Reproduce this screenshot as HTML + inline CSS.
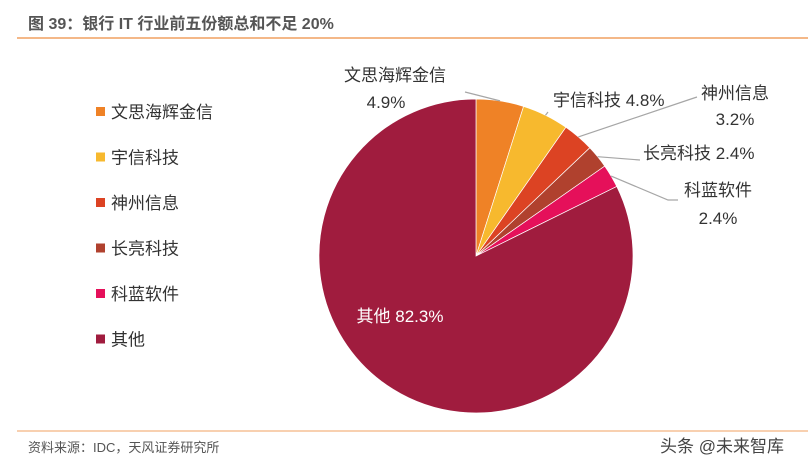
<!DOCTYPE html>
<html><head><meta charset="utf-8"><style>
body{margin:0;background:#fff;width:808px;height:465px;overflow:hidden;font-family:"Liberation Sans","Noto Sans CJK SC",sans-serif}
svg text{font-family:"Liberation Sans","Noto Sans CJK SC",sans-serif}
</style></head><body>
<svg width="808" height="465">
<text x="28" y="29" font-size="16" font-weight="bold" fill="#555">图 39：银行 IT 行业前五份额总和不足 20%</text>
<line x1="17" y1="38" x2="808" y2="38" stroke="#f0a060" stroke-width="1.5"/>
<g id="legend"></g>
<g id="pie"></g>
<g id="labels"></g>
<line x1="17" y1="431" x2="808" y2="431" stroke="#f0a060" stroke-width="1"/>
<text x="28" y="452" font-size="13" fill="#555">资料来源：IDC，天风证券研究所</text>
<text x="660" y="452" font-size="17" fill="#444">头条 @未来智库</text>
</svg>
<script>
const categories=["文思海辉金信","宇信科技","神州信息","长亮科技","科蓝软件","其他"];
const shares=[4.9,4.8,3.2,2.4,2.4,82.3];
const colors=["#ef8226","#f7b92e","#dc4323","#b0412e","#e5105a","#a01c3e"];
const NS="http://www.w3.org/2000/svg";
const cx=476,cy=256,r=157;
const pie=document.getElementById('pie'),leg=document.getElementById('legend'),lab=document.getElementById('labels');
const total=shares.reduce((a,b)=>a+b,0);
let a0=0;
const mids=[];
shares.forEach((v,i)=>{
 const a1=a0+v/total*2*Math.PI;
 const p=(a)=>[cx+r*Math.sin(a),cy-r*Math.cos(a)];
 const [x0,y0]=p(a0),[x1,y1]=p(a1);
 const path=document.createElementNS(NS,'path');
 path.setAttribute('d',`M${cx},${cy}L${x0},${y0}A${r},${r} 0 ${a1-a0>Math.PI?1:0} 1 ${x1},${y1}Z`);
 path.setAttribute('fill',colors[i]);path.setAttribute('stroke','#fff');path.setAttribute('stroke-width','0.7');
 
 
 pie.appendChild(path);
 mids.push((a0+a1)/2);
 a0=a1;
 const y=112+i*45.5;
 const rc=document.createElementNS(NS,'rect');
 rc.setAttribute('x',96);rc.setAttribute('y',y-5);rc.setAttribute('width',9);rc.setAttribute('height',9);rc.setAttribute('fill',colors[i]);
 
 
 leg.appendChild(rc);
 const t=document.createElementNS(NS,'text');
 t.setAttribute('x',111);t.setAttribute('y',y+6);t.setAttribute('font-size','17');t.setAttribute('fill','#333');t.textContent=categories[i];
 
 
 leg.appendChild(t);
});
const edge=i=>[cx+r*Math.sin(mids[i]),cy-r*Math.cos(mids[i])];
const lines=[[[465,92]],[[548,112]],[[688,100],[697,97]],[[640,160]],[[668,200],[678,200]]];
const txt=[
 [[395,81,"文思海辉金信"],[386,108,"4.9%"]],
 [[553,106,"宇信科技 4.8%"]],
 [[735,99,"神州信息"],[735,125,"3.2%"]],
 [[643,159,"长亮科技 2.4%"]],
 [[718,196,"科蓝软件"],[718,224,"2.4%"]]];
const anchors=["middle","start","middle","start","middle"];
lines.forEach((pts,i)=>{
 const e=edge(i);
 const pl=document.createElementNS(NS,'polyline');
 pl.setAttribute('points',[e,...pts].map(p=>p.join(',')).join(' '));
 pl.setAttribute('fill','none');pl.setAttribute('stroke','#a6a6a6');pl.setAttribute('stroke-width','1.2');
 
 
 lab.appendChild(pl);
 txt[i].forEach(([x,y,s])=>{
  const t=document.createElementNS(NS,'text');
  t.setAttribute('x',x);t.setAttribute('y',y);t.setAttribute('font-size','17');t.setAttribute('fill','#333');t.setAttribute('text-anchor',anchors[i]);t.textContent=s;
  
  
  lab.appendChild(t);
 });
});
const t=document.createElementNS(NS,'text');
t.setAttribute('x',400);t.setAttribute('y',322);t.setAttribute('font-size','17');t.setAttribute('fill','#fff');t.setAttribute('text-anchor','middle');
t.textContent=categories[5]+" "+shares[5]+"%";


lab.appendChild(t);
</script>
</body></html>
